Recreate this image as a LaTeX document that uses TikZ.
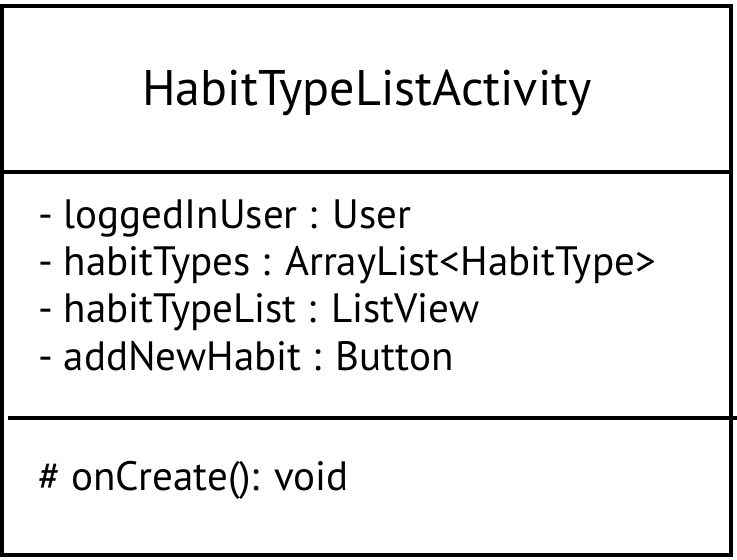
\documentclass[tikz,border=0pt]{standalone}
\usepackage{fontspec}
\setmainfont{PT Sans}
\usetikzlibrary{positioning}
\definecolor{umlink}{RGB}{0,0,0}
\tikzset{
  umlline/.style={draw=umlink,line width=4pt},
  umltitle/.style={font=\fontsize{50}{60}\selectfont,text=umlink,
                   inner sep=0pt,anchor=base},
  umlattr/.style={font=\fontsize{41}{48}\selectfont,text=umlink,
                  inner sep=0pt,anchor=base west},
}
\begin{document}
\begin{tikzpicture}[x=1pt,y=-1pt]
  \useasboundingbox (0,0) rectangle (737,560);
  % outer frame and compartments
  \coordinate (TL) at (2,6);
  \coordinate (BR) at (731,555);
  \coordinate (S1L) at (2,172);
  \coordinate (S1R) at (731,172);
  \coordinate (S2L) at (8,418);
  \coordinate (S2R) at (737,418);
  \draw[umlline] (TL) rectangle (BR);
  \draw[umlline] (S1L) -- (S1R);
  \draw[umlline] (S2L) -- (S2R);

  \node[umltitle] (CLS) at (367,105) {HabitTypeListActivity};

  \node[umlattr] (AUSER) at (38,228) {- loggedInUser : User};
  \node[umlattr] (ATYPES) at (38,275) {- habitTypes : ArrayList<HabitType>};
  \node[umlattr] (ALIST) at (38,322) {- habitTypeList : ListView};
  \node[umlattr] (ABTN) at (38,370) {- addNewHabit : Button};

  \node[umlattr] (MCREATE) at (38,490) {\# onCreate(): void};
\end{tikzpicture}
\end{document}
